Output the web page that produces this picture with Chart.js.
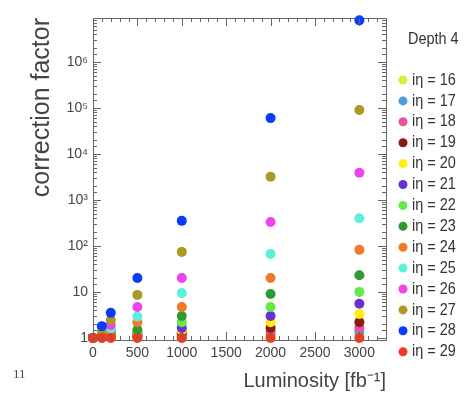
<!DOCTYPE html>
<html>
<head>
<meta charset="utf-8">
<script src="https://cdn.jsdelivr.net/npm/chart.js@4"></script>
<style>
  body { margin: 0; background: #fff; }
  #wrap { position: relative; width: 473px; height: 393px; }
  #page { position: absolute; left: 13px; top: 366px; font: 13px 'Liberation Serif', 'DejaVu Serif', serif; color: #445; }
</style>
</head>
<body>
<div id="wrap">
  <canvas id="c" width="473" height="393"></canvas>
  <div id="page">11</div>
</div>
<script>
const sans = "'Liberation Sans', Arial, sans-serif";

const lumi = [0, 100, 200, 500, 1000, 2000, 3000];
const ietas = [16, 17, 18, 19, 20, 21, 22, 23, 24, 25, 26, 27, 28, 29];
const colors = ['#d0f040', '#4a9fd8', '#e8559f', '#8b1a10', '#ffee10', '#6a30d0', '#66e84a',
                '#2f9a2f', '#f07a25', '#5cf0d8', '#ee44ee', '#a89a22', '#0a3cff', '#f03a20'];

// correction factor per ieta, one value per luminosity point
const cf16 = [1, 1.01, 1.03, 1.05, 1.08, 1.15, 1.25];
const cf17 = [1, 1.02, 1.05, 1.08, 1.12, 1.25, 1.4];
const cf18 = [1, 1.03, 1.07, 1.1, 1.2, 1.4, 1.65];
const cf19 = [1, 1.04, 1.1, 1.15, 1.3, 1.65, 2.2];
const cf20 = [1, 1.05, 1.13, 1.2, 1.45, 2.2, 3.3];
const cf21 = [1, 1.06, 1.17, 1.25, 1.65, 3.0, 5.5];
const cf22 = [1, 1.08, 1.22, 1.35, 2.2, 4.7, 10];
const cf23 = [1, 1.1, 1.3, 1.5, 3.0, 9, 23];
const cf24 = [1, 1.15, 1.45, 2.2, 4.7, 20, 82];
const cf25 = [1, 1.2, 1.6, 2.9, 9.5, 67, 400];
const cf26 = [1, 1.25, 1.9, 4.7, 20, 330, 3900];
const cf27 = [1, 1.35, 2.45, 8.6, 74, 3200, 90000];
const cf28 = [1, 1.8, 3.5, 20, 350, 60000, 8000000];
const cf29 = [1, 1, 1, 1, 1, 1, 1];
const series = [cf16, cf17, cf18, cf19, cf20, cf21, cf22, cf23, cf24, cf25, cf26, cf27, cf28, cf29];

const sup = {'2': '²', '3': '³', '4': '⁴', '5': '⁵', '6': '⁶', '7': '⁷'};

function isDecade(v) {
  const l = Math.log10(v);
  return Math.abs(l - Math.round(l)) < 1e-9;
}

const datasets = ietas.map((ie, i) => ({
  label: 'iη = ' + ie,
  data: lumi.map((x, j) => ({x: x, y: series[i][j]})),
  backgroundColor: colors[i],
  borderWidth: 0,
  pointRadius: 5,
  pointHoverRadius: 5,
  clip: false,
  order: ietas.length - i
}));

// ROOT style ticks pointing into the frame
const inTicks = {
  id: 'inTicks',
  afterDraw(chart) {
    const {ctx, chartArea: a, scales} = chart;
    ctx.save();
    ctx.strokeStyle = '#666';
    ctx.lineWidth = 1;
    ctx.beginPath();
    scales.x.ticks.forEach(t => {
      const px = Math.round(scales.x.getPixelForValue(t.value)) + 0.5;
      const len = Math.round(t.value) % 500 === 0 ? 8 : 4;
      ctx.moveTo(px, a.bottom); ctx.lineTo(px, a.bottom - len);
      ctx.moveTo(px, a.top); ctx.lineTo(px, a.top + len);
    });
    scales.y.ticks.forEach(t => {
      if (t.value < 1) return;
      const py = Math.round(scales.y.getPixelForValue(t.value)) + 0.5;
      const len = isDecade(t.value) ? 8 : 4;
      ctx.moveTo(a.left, py); ctx.lineTo(a.left + len, py);
      ctx.moveTo(a.right, py); ctx.lineTo(a.right - len, py);
    });
    ctx.stroke();
    ctx.restore();
  }
};

// legend column on the right
const sideLegend = {
  id: 'sideLegend',
  afterDraw(chart) {
    const {ctx, chartArea: a} = chart;
    ctx.save();
    ctx.font = '17px ' + sans;
    ctx.textAlign = 'left';
    ctx.textBaseline = 'middle';
    ctx.fillStyle = '#333';
    ctx.save();
    ctx.translate(a.right + 22, 39);
    ctx.scale(0.85, 1);
    ctx.fillText('Depth 4', 0, 0);
    ctx.restore();
    chart.data.datasets.forEach((ds, i) => {
      const yy = 80 + i * 20.9;
      ctx.beginPath();
      ctx.fillStyle = ds.backgroundColor;
      ctx.arc(a.right + 17, yy, 4.5, 0, Math.PI * 2);
      ctx.fill();
      ctx.fillStyle = '#333';
      ctx.save();
      ctx.translate(a.right + 26, yy);
      ctx.scale(0.85, 1);
      ctx.fillText(ds.label, 0, 0);
      ctx.restore();
    });
    ctx.restore();
  }
};

new Chart(document.getElementById('c'), {
  type: 'scatter',
  data: { datasets: datasets },
  plugins: [inTicks, sideLegend],
  options: {
    responsive: false,
    animation: false,
    devicePixelRatio: 1,
    layout: { padding: 0 },
    plugins: { legend: { display: false }, tooltip: { enabled: false } },
    scales: {
      x: {
        type: 'linear', position: 'bottom', min: 0, max: 3300,
        afterFit: s => { s.height = 53; },
        border: { display: true, color: '#666' },
        grid: { display: false, drawTicks: false },
        ticks: {
          stepSize: 100, autoSkip: false, maxRotation: 0, includeBounds: false, padding: 5,
          color: '#444', font: { family: sans, size: 14 },
          callback: v => Math.round(v) % 500 === 0 ? String(Math.round(v)) : ''
        },
        title: {
          display: true, text: 'Luminosity [fb⁻¹]', align: 'end', color: '#444',
          font: { family: sans, size: 20, lineHeight: 1 }, padding: { top: 0, bottom: 2 }
        }
      },
      x2: {
        type: 'linear', position: 'top', min: 0, max: 3300,
        afterFit: s => { s.height = 18; },
        border: { display: true, color: '#666' },
        grid: { display: false, drawTicks: false },
        ticks: { display: false }
      },
      y: {
        type: 'logarithmic', position: 'left', min: 0.9, max: 9e6,
        afterFit: s => { s.width = 93; },
        border: { display: true, color: '#666' },
        grid: { display: false, drawTicks: false },
        ticks: {
          autoSkip: false, padding: 5, color: '#444', font: { family: sans, size: 14 },
          callback: v => {
            if (v < 1 || !isDecade(v)) return '';
            const e = Math.round(Math.log10(v));
            if (e === 0) return '1';
            if (e === 1) return '10';
            return '10' + sup[e];
          }
        },
        title: {
          display: true, text: 'correction factor', align: 'end', color: '#444',
          font: { family: sans, size: 25, lineHeight: 1 }, padding: { top: 30, bottom: 0 }
        }
      },
      y2: {
        type: 'logarithmic', position: 'right', min: 0.9, max: 9e6,
        afterFit: s => { s.width = 87; },
        border: { display: true, color: '#666' },
        grid: { display: false, drawTicks: false },
        ticks: { display: false }
      }
    }
  }
});
</script>
</body>
</html>
